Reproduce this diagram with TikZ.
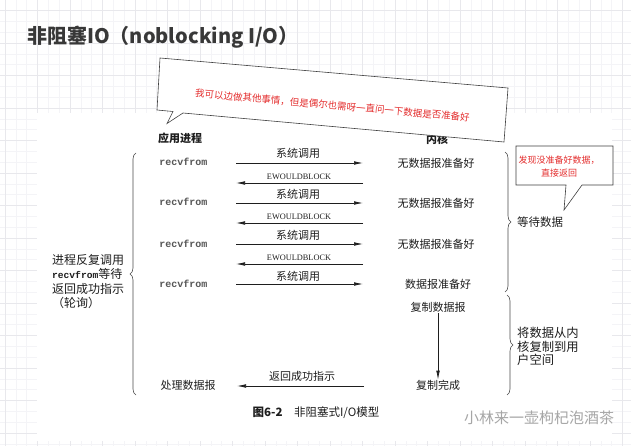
\documentclass[tikz,border=0pt]{standalone}
\usepackage{fontspec}
\setmainfont{Noto Sans CJK SC}
\newfontfamily\monof{Liberation Mono}
\newfontfamily\serf{Liberation Serif}
\usetikzlibrary{arrows.meta,decorations.pathreplacing}
\definecolor{ink}{RGB}{30,30,30}
\definecolor{redtxt}{RGB}{228,45,45}
\definecolor{gridc}{RGB}{232,232,236}
\definecolor{gridf}{RGB}{244,244,247}
\tikzset{
  cjk/.style={font=\fontsize{11}{13}\selectfont, text=ink, inner sep=0pt},
  hdr/.style={font=\fontsize{11}{13}\selectfont\bfseries, text=ink, inner sep=0pt},
  mono/.style={font=\fontsize{10}{12}\selectfont\monof\bfseries, text=ink!75, inner sep=0pt},
  ewb/.style={font=\fontsize{8.3}{10}\selectfont\serf, text=ink, inner sep=0pt},
  arr/.style={draw=ink, line width=0.7pt, -{Latex[length=9pt,width=3.6pt]}},
  bracestyle/.style={draw=ink!80, line width=0.6pt, decorate, decoration={brace, amplitude=6pt}},
  note/.style={font=\fontsize{9.5}{11}\selectfont, text=redtxt, inner sep=0pt},
  boxline/.style={draw=black!75, line width=0.6pt, fill=white}
}
\begin{document}
\begin{tikzpicture}[x=1pt,y=-1pt]
\useasboundingbox (0,0) rectangle (631,446);
\fill[white] (0,0) rectangle (631,446);
% background grid
\foreach \k in {0,...,60} {
  \draw[gridf, line width=0.4pt] (0,{\k*10.833-0.33}) -- (631,{\k*10.833-0.33});
  \draw[gridf, line width=0.4pt] ({\k*10.833+5},0) -- ({\k*10.833+5},446);
}
\foreach \k in {0,...,20} {
  \draw[gridc, line width=0.5pt] (0,{10.5+\k*32.5}) -- (631,{10.5+\k*32.5});
  \draw[gridc, line width=0.5pt] ({5+\k*32.5},0) -- ({5+\k*32.5},446);
}
% white figure area
\fill[white] (37,113) rectangle (612,441);

% title
\node[font=\fontsize{20}{23}\selectfont\bfseries, text=black!78, anchor=west, inner sep=0pt] (title) at (27,37) {非阻塞IO（noblocking I/O）};

% headers
\node[hdr] (app) at (180,138) {应用进程};
\node[hdr] (kern) at (437,139) {内核};

% rows
\node[mono] (r1) at (183.5,162) {recvfrom};
\node[mono] (r2) at (183.5,202) {recvfrom};
\node[mono] (r3) at (183.5,243.5) {recvfrom};
\node[mono] (r4) at (183.5,283.5) {recvfrom};

\node[cjk] (k1) at (436,163) {无数据报准备好};
\node[cjk] (k2) at (436,203) {无数据报准备好};
\node[cjk] (k3) at (436,244) {无数据报准备好};
\node[cjk] (k4) at (438,284) {数据报准备好};

\foreach \i/\ya/\la in {1/163/153, 2/203/194, 3/244/235, 4/284/276} {
  \coordinate (sL\i) at (236,\ya);
  \coordinate (sR\i) at (363,\ya);
  \node[cjk] (sl\i) at (298,\la) {系统调用};
  \draw[arr] (sL\i) -- (sR\i);
}
\foreach \i/\ya/\la in {1/183/177, 2/223/217, 3/264/258} {
  \coordinate (eR\i) at (363,\ya);
  \coordinate (eL\i) at (236,\ya);
  \node[ewb] (el\i) at (299,\la) {EWOULDBLOCK};
  \draw[arr] (eR\i) -- (eL\i);
}

% copy phase
\node[cjk] (cp1) at (438,307) {复制数据报};
\node[cjk] (cp2) at (438,385) {复制完成};
\draw[arr] (cp1.south) ++(0,1) coordinate (cpa) (cpa) -- (cp2.north);
\node[cjk] (ret) at (302,376) {返回成功指示};
\coordinate (rR) at (364,386);
\coordinate (rL) at (237,386);
\draw[arr] (rR) -- (rL);
\node[cjk] (proc) at (188,385) {处理数据报};

% braces
\draw[bracestyle] (136,395) -- (136,153);
\draw[bracestyle] (505,152) -- (505,292);
\draw[bracestyle] (507,295) -- (507,395);

% side texts
\node[font=\fontsize{12}{14.5}\selectfont, text=ink, inner sep=0pt, anchor=west, align=left] (lefttxt) at (52,281.5)
  {进程反复调用\\{\fontsize{9.6}{12}\selectfont\monof\bfseries recvfrom}等待\\返回成功指示\\（轮询）};
\node[font=\fontsize{11.5}{13}\selectfont, text=ink, inner sep=0pt, anchor=west] (wait) at (517,222) {等待数据};
\node[font=\fontsize{12.3}{13.6}\selectfont, text=ink, inner sep=0pt, anchor=west, align=left] (copytxt) at (517,346.5)
  {将数据从内\\核复制到用\\户空间};

% caption
\node[font=\fontsize{11.5}{13}\selectfont, text=ink, inner sep=0pt] (cap) at (316,413) {\textbf{图6-2}\quad 非阻塞式I/O模型};

% main callout
\draw[boxline] (160,58) -- (508,88) -- (504,142) -- (183,113) -- (167,123.5) -- (173,111.5) -- (157,110) -- cycle;
\node[note, rotate=-5.1] (say) at (332.5,105.5) {我可以边做其他事情，但是偶尔也需呀一直问一下数据是否准备好};

% right callout
\draw[boxline] (516,146) -- (613,146) -- (613,185) -- (582,185) -- (564,210) -- (566,185) -- (516,185) -- cycle;
\node[font=\fontsize{9}{13}\selectfont, text=redtxt, inner sep=0pt, align=center] (found) at (559,166.5) {发现没准备好数据，\\直接返回};

% watermark
\node[font=\fontsize{15}{17}\selectfont, text=black!35, inner sep=0pt, anchor=west] (wm) at (464,418) {小林来一壶枸杞泡酒茶};
\end{tikzpicture}
\end{document}
